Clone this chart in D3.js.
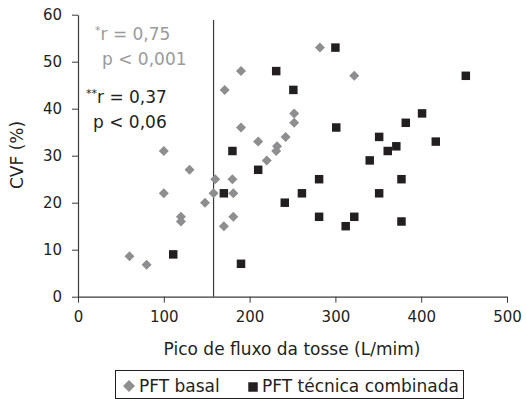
<!DOCTYPE html>
<html lang="pt">
<head>
<meta charset="utf-8">
<title>CVF x Pico de fluxo da tosse</title>
<script src="https://cdn.jsdelivr.net/npm/d3@7"></script>
<style>
  body { margin: 0; background: #fff; }
  text { font-family: "DejaVu Sans", sans-serif; fill: #231f20; }
  .axis path, .axis line { stroke: #3a3a3a; }
  .axis text { font-size: 15px; fill: #231f20; }
</style>
</head>
<body>
<script>
// PFT basal (gray diamonds)
var basalFlow = [60, 80, 100, 100, 120, 120, 130, 148, 158, 160, 170, 171, 180, 181, 181, 190, 190, 210, 220, 232, 231, 242, 252, 252, 282, 322];
var basalCvf  = [8.6, 6.8, 31, 22, 17, 16, 27, 20, 22, 25, 15, 44, 25, 22, 17, 48, 36, 33, 29, 32, 31, 34, 39, 37, 53, 47];

// PFT técnica combinada (black squares)
var combFlow = [111, 170, 180, 190, 210, 231, 241, 251, 261, 281, 281, 300, 301, 312, 322, 340, 351, 351, 361, 371, 377, 377, 382, 401, 417, 452];
var combCvf  = [9, 22, 31, 7, 27, 48, 20, 44, 22, 25, 17, 53, 36, 15, 17, 29, 34, 22, 31, 32, 25, 16, 37, 39, 33, 47];

var xTicks = [0, 100, 200, 300, 400, 500];
var yTicks = [0, 10, 20, 30, 40, 50, 60];
var cutoff = 158;

var w = 526, h = 399;
var svg = d3.select("body").append("svg")
            .attr("width", w)
            .attr("height", h);

var x = d3.scaleLinear().domain([0, 500]).range([78, 507]);
var y = d3.scaleLinear().domain([0, 60]).range([296.7, 14.7]);

// axes
svg.append("g")
   .attr("class", "axis")
   .attr("transform", "translate(0," + y(0) + ")")
   .call(d3.axisBottom(x).tickValues(xTicks).tickSize(6).tickPadding(9).tickSizeOuter(0));

svg.append("g")
   .attr("class", "axis")
   .attr("transform", "translate(" + x(0) + ",0)")
   .call(d3.axisLeft(y).tickValues(yTicks).tickSize(6).tickPadding(10).tickSizeOuter(0));

svg.selectAll(".axis .domain").attr("stroke-width", 1.2);

// cutoff line
svg.append("line")
   .attr("x1", x(cutoff)).attr("x2", x(cutoff))
   .attr("y1", 20).attr("y2", y(0))
   .attr("stroke", "#3a3a3a")
   .attr("stroke-width", 1.2);

// points
var diamond = d3.symbol().type(d3.symbolSquare).size(50);
var square = d3.symbol().type(d3.symbolSquare).size(72);

svg.append("g").selectAll("path")
   .data(d3.range(basalFlow.length))
   .enter().append("path")
   .attr("d", diamond)
   .attr("transform", function(i){
       return "translate(" + x(basalFlow[i]) + "," + y(basalCvf[i]) + ") rotate(45)";
   })
   .attr("fill", "#8e8e90");

svg.append("g").selectAll("path")
   .data(d3.range(combFlow.length))
   .enter().append("path")
   .attr("d", square)
   .attr("transform", function(i){
       return "translate(" + x(combFlow[i]) + "," + y(combCvf[i]) + ")";
   })
   .attr("fill", "#231f20");

// annotations
var ann = svg.append("g").style("font-size", "17px");

var t1 = ann.append("text").attr("x", 95).attr("y", 40).style("fill", "#9a9a9c");
t1.append("tspan").text("*").style("font-size", "11px").attr("dy", -6);
t1.append("tspan").text("r = 0,75").attr("dy", 6);
ann.append("text").attr("x", 102).attr("y", 65).style("fill", "#9a9a9c").text("p < 0,001");

var t2 = ann.append("text").attr("x", 86).attr("y", 103);
t2.append("tspan").text("**").style("font-size", "11px").attr("dy", -6);
t2.append("tspan").text("r = 0,37").attr("dy", 6);
ann.append("text").attr("x", 93).attr("y", 128).text("p < 0,06");

// axis titles
svg.append("text")
   .attr("x", 292).attr("y", 355)
   .attr("text-anchor", "middle")
   .style("font-size", "17px")
   .text("Pico de fluxo da tosse (L/mim)");

svg.append("text")
   .attr("transform", "translate(23,155) rotate(-90)")
   .attr("text-anchor", "middle")
   .style("font-size", "17px")
   .text("CVF (%)");

// legend
var lg = svg.append("g");
lg.append("rect")
  .attr("x", 115.5).attr("y", 370.5)
  .attr("width", 348).attr("height", 28)
  .attr("fill", "none")
  .attr("stroke", "#231f20");
lg.append("path")
  .attr("d", d3.symbol().type(d3.symbolSquare).size(72))
  .attr("transform", "translate(129,386) rotate(45)")
  .attr("fill", "#8e8e90");
lg.append("text").attr("x", 139).attr("y", 392).style("font-size", "17px").text("PFT basal");
lg.append("path")
  .attr("d", d3.symbol().type(d3.symbolSquare).size(90))
  .attr("transform", "translate(253,387)")
  .attr("fill", "#231f20");
lg.append("text").attr("x", 262).attr("y", 392).style("font-size", "17px").text("PFT técnica combinada");
</script>
</body>
</html>
